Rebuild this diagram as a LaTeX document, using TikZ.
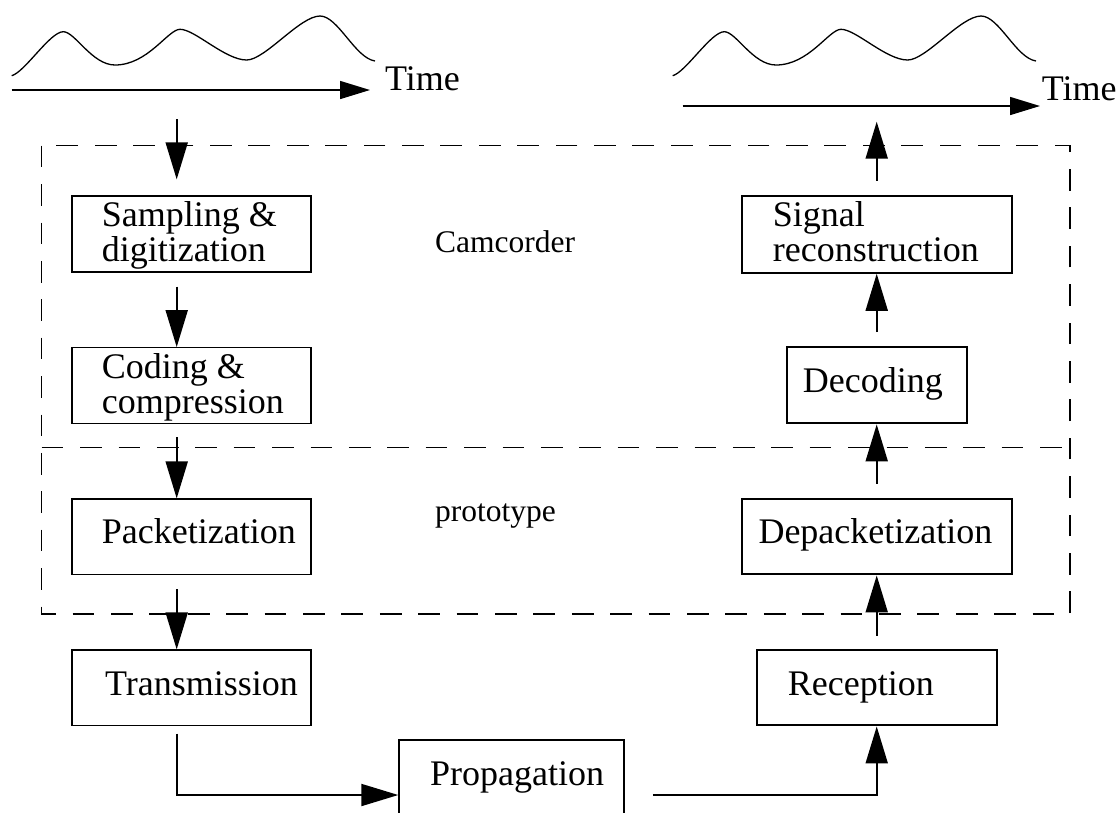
\documentclass[tikz,border=0pt]{standalone}
\usepackage{fontspec}
\setmainfont{Liberation Serif}
\usetikzlibrary{arrows.meta}
\begin{document}
\begin{tikzpicture}[x=1pt,y=-1pt,
  boxthin/.style={draw, rectangle, line width=1.3pt, inner sep=0pt},
  boxthick/.style={draw, rectangle, line width=2.2pt, inner sep=0pt},
  lbl/.style={inner sep=0pt, anchor=base west, align=left,
    font=\fontsize{36pt}{35pt}\selectfont},
  tag/.style={inner sep=0pt, anchor=base west,
    font=\fontsize{31.5pt}{35pt}\selectfont},
  flow/.style={line width=2pt, -{Triangle[length=37pt,width=22pt]}},
  axis/.style={line width=1.5pt, -{Triangle[length=30pt,width=18pt]}},
  wave/.style={line width=1.3pt},
  frame/.style={line width=1.3pt, dash pattern=on 21.7pt off 16.7pt}
]
\useasboundingbox (0,0) rectangle (1116,812);
\clip (0,0) rectangle (1116,812);

% input and output signals with their time axes
\newcommand\signalcurve{(11.7,75.7) .. controls (25,72) and (50,31.7) .. (63.3,31.7)
  .. controls (75,31.7) and (92,65) .. (115,65)
  .. controls (148,65) and (168,29.3) .. (180,29.3)
  .. controls (195,29.3) and (225,60) .. (246.7,60)
  .. controls (265,60) and (300,16) .. (320,16)
  .. controls (338,16) and (355,58) .. (375,61)}
\draw[wave] \signalcurve;
\draw[wave, xshift=661pt] \signalcurve;
\coordinate (axL0) at (11.7,90);
\coordinate (axL1) at (370,90);
\coordinate (axR0) at (682.7,106);
\coordinate (axR1) at (1040,106);
\draw[axis] (axL0) -- (axL1);
\draw[axis] (axR0) -- (axR1);
\node[lbl] (timeL) at (385,90.7) {Time};
\node[lbl] (timeR) at (1041.7,100) {Time};

% camcorder / prototype frame
\draw[frame] (41.7,145.7) rectangle (1070,614);
\draw[frame] (41.7,447.7) -- (1070,447.7);
\node[tag] (camcorder) at (435,252.3) {Camcorder};
\node[tag] (prototype) at (435,521.7) {prototype};

% sender chain
\node[boxthin, minimum width=239pt, minimum height=76pt]   (samp)  at (191.5,234) {};
\node[boxthin, minimum width=239pt, minimum height=75.6pt] (cod)   at (191.5,385.5) {};
\node[boxthin, minimum width=239pt, minimum height=75.3pt] (pack)  at (191.5,536.7) {};
\node[boxthin, minimum width=239pt, minimum height=75.3pt] (trans) at (191.5,687.7) {};
% two-line labels are anchored on the baseline of their last line
\node[lbl] (sampT)  at (101.7,261.7) {Sampling \&\\digitization};
\node[lbl] (codT)   at (101.7,413.3) {Coding \&\\compression};
\node[lbl] (packT)  at (101.7,543.3) {Packetization};
\node[lbl] (transT) at (105,695.7)   {Transmission};

% channel
\node[boxthick, minimum width=224.7pt, minimum height=110pt] (prop) at (511.7,795) {};
\node[lbl] (propT) at (430,785) {Propagation};

% receiver chain
\node[boxthick, minimum width=270pt, minimum height=76.7pt] (sig)    at (876.7,234.3) {};
\node[boxthick, minimum width=180pt, minimum height=76pt]   (dec)    at (876.7,385.3) {};
\node[boxthick, minimum width=270pt, minimum height=75.3pt] (depack) at (876.7,536.7) {};
\node[boxthick, minimum width=240pt, minimum height=75.3pt] (recep)  at (876.7,687.7) {};
\node[lbl] (sigT)    at (772.7,261.7) {Signal\\reconstruction};
\node[lbl] (decT)    at (802.7,392.3) {Decoding};
\node[lbl] (depackT) at (758.3,543.3) {Depacketization};
\node[lbl] (recepT)  at (787.7,695.7) {Reception};

% connectors
\coordinate (colL) at (176.7,0);
\coordinate (tapL) at (176.7,119.3);
\coordinate (tapR) at (876.7,106);
\draw[flow, shorten >=16pt] (tapL) -- (samp.north -| colL);
\draw[flow, shorten <=14pt] (samp.south -| colL) -- (cod.north -| colL);
\draw[flow, shorten <=13.4pt] (cod.south -| colL) -- (pack.north -| colL);
\draw[flow, shorten <=14pt] (pack.south -| colL) -- (trans.north -| colL);
\draw[flow, shorten <=7.7pt] (trans.south -| colL) |- (prop.west);
\draw[flow, shorten <=27.7pt] (prop.east) -| (recep.south);
\draw[flow, shorten <=13.3pt] (recep.north) -- (depack.south);
\draw[flow, shorten <=14pt] (depack.north) -- (dec.south);
\draw[flow, shorten <=14pt] (dec.north) -- (sig.south);
\draw[flow, shorten <=14pt, shorten >=15.7pt] (sig.north) -- (tapR);
\end{tikzpicture}
\end{document}
